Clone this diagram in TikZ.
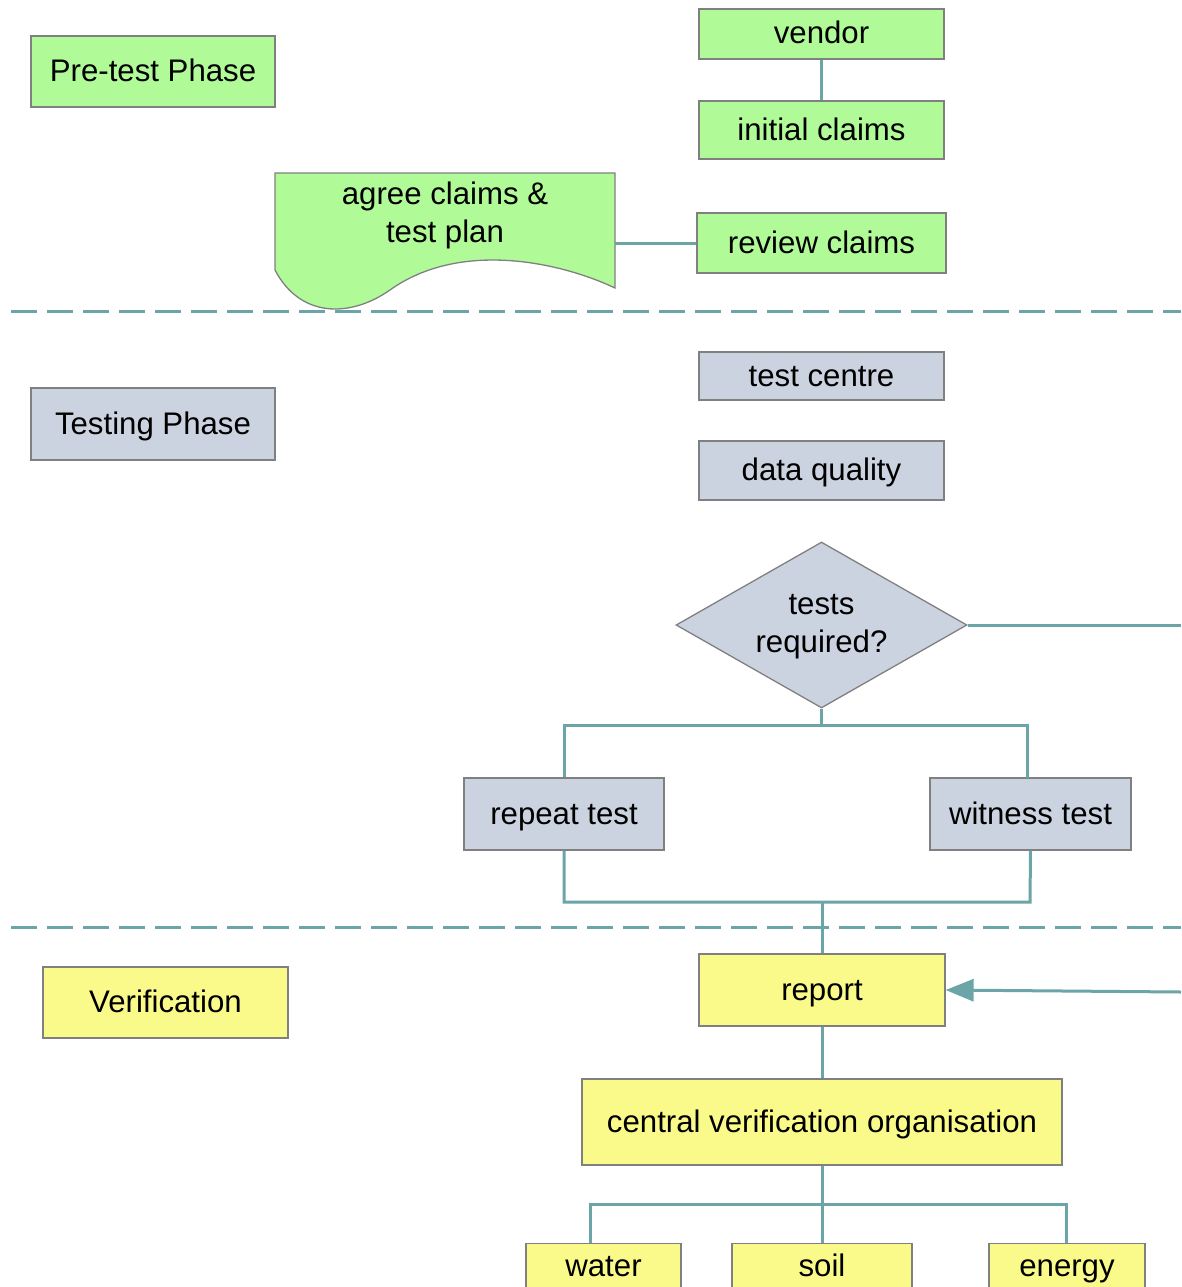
\documentclass[tikz,border=0pt]{standalone}
\usepackage{fontspec}
\setmainfont{Liberation Sans}
\usetikzlibrary{shapes.geometric,arrows.meta}
\definecolor{gfill}{RGB}{176,250,152}
\definecolor{bfill}{RGB}{203,211,224}
\definecolor{yfill}{RGB}{250,250,138}
\definecolor{bord}{RGB}{128,128,128}
\definecolor{teal1}{RGB}{107,165,168}
\tikzset{
  box/.style={draw=bord, line width=1.3pt, minimum height=#1, inner sep=0pt, align=center, text height=26pt, text depth=6pt, font=\fontsize{31.2}{37}\selectfont},
  wire/.style={draw=teal1, line width=3pt},
  sep/.style={draw=teal1, line width=3pt, dash pattern=on 26pt off 10pt},
  lbl/.style={inner sep=0pt, align=center, text height=26pt, text depth=6pt, font=\fontsize{31.2}{38}\selectfont},
}
\begin{document}
\begin{tikzpicture}[x=1pt,y=-1pt]
\useasboundingbox (0,0) rectangle (1181,1287);
% separators
\draw[sep] (11,311) -- (1181,311);
\draw[sep] (11,927) -- (1181,927);
% Pre-test phase
\node[box=71pt, minimum width=244pt, fill=gfill] (pre) at (153,71.5) {Pre-test Phase};
\node[box=50pt, minimum width=245pt, fill=gfill] (vendor) at (821.5,34) {vendor};
\node[box=58pt, minimum width=245pt, fill=gfill] (init) at (821.5,130) {initial claims};
\node[box=60pt, minimum width=249pt, fill=gfill] (review) at (821.5,243) {review claims};
% document shape
\draw[draw=bord, line width=1.3pt, fill=gfill] (275,173) -- (615,173) -- (615,288)
  .. controls (560,262) and (460,240) .. (390,290)
  .. controls (350,318) and (300,318) .. (275,270) -- cycle;
\node[font=\fontsize{31.2}{38}\selectfont, align=center, inner sep=0pt] (agree) at (445,215) {agree claims \&\\test plan};
\coordinate (agreeR) at (615,243);
\draw[wire] (vendor.south) -- (init.north);
\draw[wire] (agreeR) -- (review.west);
% Testing phase
\node[box=72pt, minimum width=244pt, fill=bfill] (testing) at (153,424) {Testing Phase};
\node[box=48pt, minimum width=245pt, fill=bfill] (centre) at (821.5,376) {test centre};
\node[box=59pt, minimum width=245pt, fill=bfill] (dq) at (821.5,470.5) {data quality};
\node[diamond, draw=bord, line width=1.3pt, fill=bfill, minimum width=291pt, minimum height=166pt, inner sep=0pt, aspect=1.75] (req) at (821.5,625) {};
\node[font=\fontsize{31.2}{38}\selectfont, align=center, inner sep=0pt] (reqtext) at (821.5,627) {tests\\required?};
\node[box=72pt, minimum width=200pt, fill=bfill] (repeat) at (564,814) {repeat test};
\node[box=72pt, minimum width=201pt, fill=bfill] (witness) at (1030.5,814) {witness test};
\coordinate (rightend) at (1181,625);
\draw[wire] (req.east) -- (rightend);
\draw[wire] (req.south) -- (821.5,725) -- (564,725) -- (repeat.north);
\draw[wire] (821.5,725) -- (1027,725) -- (1027,778);
% Verification
\node[box=71pt, minimum width=245pt, fill=yfill] (verif) at (165.5,1002.5) {Verification};
\node[box=72pt, minimum width=246pt, fill=yfill] (report) at (822,990) {report};
\node[box=86pt, minimum width=480pt, fill=yfill] (cvo) at (822,1122) {central verification organisation};
\node[draw=bord, line width=1.3pt, fill=yfill, minimum height=60pt, minimum width=155pt, inner sep=0pt, anchor=north] (water) at (603.5,1243) {};
\node[draw=bord, line width=1.3pt, fill=yfill, minimum height=60pt, minimum width=180pt, inner sep=0pt, anchor=north] (soil) at (822,1243) {};
\node[draw=bord, line width=1.3pt, fill=yfill, minimum height=60pt, minimum width=156pt, inner sep=0pt, anchor=north] (energy) at (1067,1243) {};
\node[lbl] (watert) at (603.5,1266) {water};
\node[lbl] (soilt) at (822,1266) {soil};
\node[lbl] (energyt) at (1067,1266) {energy};
\draw[wire] (repeat.south) -- (564,902) -- (1030,902) -- (witness.south);
\draw[wire] (822,902) -- (report.north);
\coordinate (arrstart) at (1181,992);
\draw[wire, -{Triangle[length=28pt,width=22pt]}] (arrstart) -- (report.east);
\draw[wire] (report.south) -- (cvo.north);
\draw[wire] (cvo.south) -- (822,1204) -- (590,1204) -- (590,1243);
\draw[wire] (822,1204) -- (soil.north);
\draw[wire] (822,1204) -- (1066,1204) -- (1066,1243);
\end{tikzpicture}
\end{document}
